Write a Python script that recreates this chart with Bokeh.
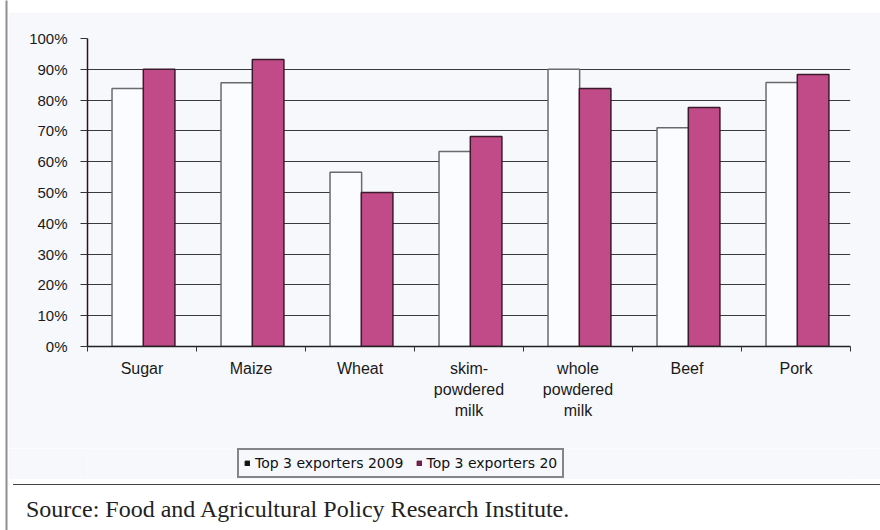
from bokeh.plotting import figure
from bokeh.models import (FactorRange, Range1d, LinearAxis, CategoricalAxis, FixedTicker,
                          NumeralTickFormatter, Legend, LegendItem, Grid, ColumnDataSource, Div)
from bokeh.layouts import column, row
from bokeh.transform import dodge
from bokeh.embed import file_html
from bokeh.resources import INLINE

# ---- data -------------------------------------------------------------
categories = ["Sugar", "Maize", "Wheat", "skim-\npowdered\nmilk",
              "whole\npowdered\nmilk", "Beef", "Pork"]
exporters_2009 = [0.838, 0.856, 0.566, 0.633, 0.900, 0.710, 0.857]
exporters_later = [0.900, 0.932, 0.500, 0.682, 0.838, 0.776, 0.883]
series_labels = ["Top 3 exporters 2009", "Top 3 exporters 20"]
y_ticks = [0.0, 0.1, 0.2, 0.3, 0.4, 0.5, 0.6, 0.7, 0.8, 0.9, 1.0]
source_note = "Source: Food and Agricultural Policy Research Institute."

BG = "#f7f8fc"
PINK = "#c14a89"
WHITE_BAR = "#fbfcff"
FONT = "Liberation Sans"
W = 872


def strip(width, height, fill, left=0, right=0):
    f = figure(width=width, height=height, output_backend="svg", toolbar_location=None,
               x_axis_location=None, y_axis_location=None,
               min_border_top=0, min_border_bottom=0,
               min_border_left=left, min_border_right=right,
               background_fill_color=fill, border_fill_color=fill,
               outline_line_color=None, x_range=Range1d(0, 1), y_range=Range1d(0, 1))
    f.grid.visible = False
    return f


# left page border and top rule
left_strip = strip(8, 530, "#8f8f8f", left=5, right=1)
left_strip.border_fill_color = "#ffffff"
top_white = strip(W, 9, "#ffffff")
top_rule = strip(W, 3, "#8c8c8c")

# ---- main chart ---------------------------------------------------------
src = ColumnDataSource(dict(cat=categories, a=exporters_2009, b=exporters_later))

p = figure(width=W, height=436, x_range=FactorRange(*categories), y_range=Range1d(0, 1),
           output_backend="svg", toolbar_location=None, x_axis_location=None,
           min_border_left=79, min_border_right=30, min_border_top=26, min_border_bottom=102,
           background_fill_color=BG, border_fill_color=BG, outline_line_color=None)

p.yaxis.ticker = FixedTicker(ticks=y_ticks)
p.yaxis.formatter = NumeralTickFormatter(format="0%")
p.yaxis.axis_line_color = "#2a1422"
p.yaxis.axis_line_width = 1.5
p.yaxis.major_tick_out = 7
p.yaxis.major_tick_in = 0
p.yaxis.major_tick_line_color = "#333333"
p.yaxis.minor_tick_line_color = None
p.yaxis.major_label_standoff = 13
p.yaxis.major_label_text_font = FONT
p.yaxis.major_label_text_font_size = "15px"
p.yaxis.major_label_text_color = "#1a1a1a"

p.xgrid.visible = False
p.ygrid.ticker = FixedTicker(ticks=y_ticks[:-1])
p.ygrid.grid_line_color = "#3a3a3a"
p.ygrid.grid_line_width = 1.2
p.add_layout(Grid(dimension=1, ticker=FixedTicker(ticks=y_ticks[-1:]),
                  grid_line_color="#cfcfd4", grid_line_width=1.5))

n = len(categories)
edges = list(range(n + 1))
edge_axis = LinearAxis(ticker=FixedTicker(ticks=edges),
                       major_label_overrides={e: "" for e in edges},
                       major_tick_out=5, major_tick_in=0, minor_tick_line_color=None,
                       major_tick_line_color="#333333",
                       axis_line_color="#222222", axis_line_width=1.5,
                       major_label_standoff=0, major_label_text_font_size="2px")
p.add_layout(edge_axis, "below")
cat_axis = CategoricalAxis(axis_line_color=None, major_tick_line_color=None,
                           minor_tick_line_color=None, major_label_standoff=2,
                           major_label_text_font=FONT, major_label_text_font_size="16px",
                           major_label_text_color="#1a1a1a",
                           major_label_text_line_height=1.25)
p.add_layout(cat_axis, "below")

white_kw = dict(fill_color=WHITE_BAR, line_color="#6a6a6a", line_width=1.5)
pink_kw = dict(fill_color=PINK, line_color="#3b1a2b", line_width=1.5)
p.vbar(x=dodge("cat", -0.13, range=p.x_range), top="a", width=0.29, source=src, **white_kw)
p.vbar(x=dodge("cat", 0.157, range=p.x_range), top="b", width=0.29, source=src, **pink_kw)

# ---- legend row (same series, legend only; bars lie outside this strip's view) ----
q = figure(width=W, height=31, x_range=FactorRange(*categories), y_range=Range1d(2, 3),
           output_backend="svg", toolbar_location=None,
           x_axis_location=None, y_axis_location=None,
           min_border_top=0, min_border_bottom=0, min_border_left=79, min_border_right=30,
           background_fill_color=BG, border_fill_color=BG, outline_line_color=None)
q.grid.visible = False
k1 = q.vbar(x="cat", top="a", width=0.29, source=src, fill_color="#111111",
            line_color="#111111")
k2 = q.vbar(x="cat", top="b", width=0.29, source=src, fill_color="#7a1f4d",
            line_color="#5a1538")
legend = Legend(items=[LegendItem(label=series_labels[0], renderers=[k1]),
                       LegendItem(label=series_labels[1], renderers=[k2])],
                orientation="horizontal", location=(150, 1), padding=5, spacing=12,
                glyph_width=6, glyph_height=6, label_height=15, label_standoff=5,
                label_text_font="DejaVu Sans", label_text_font_size="14px",
                label_text_color="#111111", border_line_color="#111111",
                border_line_width=2, background_fill_color=BG, background_fill_alpha=1,
                margin=0)
q.add_layout(legend)

# ---- source note ----------------------------------------------------------
s = Div(width=W, height=51,
        text=('<div style="font-family:\'Liberation Serif\',serif;font-size:24px;'
              'color:#222;padding:12px 0 0 13px;line-height:24px;white-space:nowrap;">'
              + source_note + '</div>'),
        styles={"border-top": "1px solid #444444", "background-color": "#ffffff",
                "box-sizing": "border-box"})

layout = row(left_strip, column(top_white, top_rule, p, q, s, spacing=0), spacing=0)
open("out.html", "w").write(file_html(layout, INLINE))
